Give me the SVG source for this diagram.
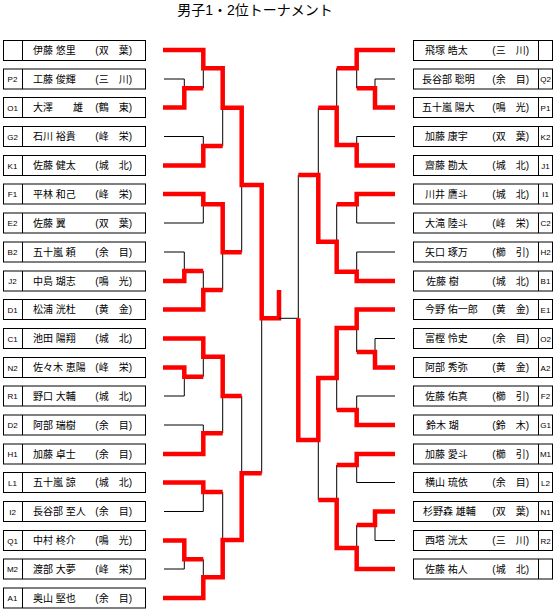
<svg xmlns="http://www.w3.org/2000/svg" width="560" height="610" viewBox="0 0 560 610">
<style>
.bx{fill:#fff;stroke:#000;stroke-width:1}
.dv{stroke:#000;stroke-width:1}
.nm{font-family:"Liberation Sans","Noto Sans CJK JP",sans-serif;font-size:10px;fill:#000}
.sd{font-family:"Liberation Sans",sans-serif;font-size:8px;fill:#000;text-anchor:middle}
.sc{text-anchor:end}
.ti{font-family:"Liberation Sans","Noto Sans CJK JP",sans-serif;font-size:14px;fill:#000;text-anchor:middle}
.r{fill:none;stroke:#f00;stroke-width:4.5;stroke-linejoin:miter}
.k{fill:none;stroke:#000;stroke-width:1}
</style>
<rect width="560" height="610" fill="#fff"/>
<text class="ti" x="255" y="15">男子1・2位トーナメント</text>

<g id="left-players">
<g id="L0"><rect class="bx" x="3.5" y="40.5" width="142" height="20"/><line class="dv" x1="22.5" y1="40.5" x2="22.5" y2="60.5"/><text class="nm" x="33" y="54">伊藤 悠里</text><text class="nm sc" x="132" y="54">(双　葉)</text></g>
<g id="L1"><rect class="bx" x="3.5" y="69" width="142" height="20"/><line class="dv" x1="22.5" y1="69" x2="22.5" y2="89"/><text class="sd" x="12.5" y="82">P2</text><text class="nm" x="33" y="82.5">工藤 俊輝</text><text class="nm sc" x="132" y="82.5">(三　川)</text></g>
<g id="L2"><rect class="bx" x="3.5" y="97.5" width="142" height="20"/><line class="dv" x1="22.5" y1="97.5" x2="22.5" y2="117.5"/><text class="sd" x="12.5" y="110.5">O1</text><text class="nm" x="33" y="111">大澤　　雄</text><text class="nm sc" x="132" y="111">(鶴　東)</text></g>
<g id="L3"><rect class="bx" x="3.5" y="126.5" width="142" height="20"/><line class="dv" x1="22.5" y1="126.5" x2="22.5" y2="146.5"/><text class="sd" x="12.5" y="139.5">G2</text><text class="nm" x="33" y="140">石川 裕貴</text><text class="nm sc" x="132" y="140">(峰　栄)</text></g>
<g id="L4"><rect class="bx" x="3.5" y="155.5" width="142" height="20"/><line class="dv" x1="22.5" y1="155.5" x2="22.5" y2="175.5"/><text class="sd" x="12.5" y="168.5">K1</text><text class="nm" x="33" y="169">佐藤 健太</text><text class="nm sc" x="132" y="169">(城　北)</text></g>
<g id="L5"><rect class="bx" x="3.5" y="184" width="142" height="20"/><line class="dv" x1="22.5" y1="184" x2="22.5" y2="204"/><text class="sd" x="12.5" y="197">F1</text><text class="nm" x="33" y="197.5">平林 和己</text><text class="nm sc" x="132" y="197.5">(峰　栄)</text></g>
<g id="L6"><rect class="bx" x="3.5" y="213" width="142" height="20"/><line class="dv" x1="22.5" y1="213" x2="22.5" y2="233"/><text class="sd" x="12.5" y="226">E2</text><text class="nm" x="33" y="226.5">佐藤 翼</text><text class="nm sc" x="132" y="226.5">(双　葉)</text></g>
<g id="L7"><rect class="bx" x="3.5" y="242" width="142" height="20"/><line class="dv" x1="22.5" y1="242" x2="22.5" y2="262"/><text class="sd" x="12.5" y="255">B2</text><text class="nm" x="33" y="255.5">五十嵐 頼</text><text class="nm sc" x="132" y="255.5">(余　目)</text></g>
<g id="L8"><rect class="bx" x="3.5" y="271" width="142" height="20"/><line class="dv" x1="22.5" y1="271" x2="22.5" y2="291"/><text class="sd" x="12.5" y="284">J2</text><text class="nm" x="33" y="284.5">中島 瑚志</text><text class="nm sc" x="132" y="284.5">(鳴　光)</text></g>
<g id="L9"><rect class="bx" x="3.5" y="299.5" width="142" height="20"/><line class="dv" x1="22.5" y1="299.5" x2="22.5" y2="319.5"/><text class="sd" x="12.5" y="312.5">D1</text><text class="nm" x="33" y="313">松浦 洸杜</text><text class="nm sc" x="132" y="313">(黄　金)</text></g>
<g id="L10"><rect class="bx" x="3.5" y="328.5" width="142" height="20"/><line class="dv" x1="22.5" y1="328.5" x2="22.5" y2="348.5"/><text class="sd" x="12.5" y="341.5">C1</text><text class="nm" x="33" y="342">池田 陽翔</text><text class="nm sc" x="132" y="342">(城　北)</text></g>
<g id="L11"><rect class="bx" x="3.5" y="357.5" width="142" height="20"/><line class="dv" x1="22.5" y1="357.5" x2="22.5" y2="377.5"/><text class="sd" x="12.5" y="370.5">N2</text><text class="nm" x="33" y="371">佐々木 恵陽</text><text class="nm sc" x="132" y="371">(峰　栄)</text></g>
<g id="L12"><rect class="bx" x="3.5" y="386" width="142" height="20"/><line class="dv" x1="22.5" y1="386" x2="22.5" y2="406"/><text class="sd" x="12.5" y="399">R1</text><text class="nm" x="33" y="399.5">野口 大輔</text><text class="nm sc" x="132" y="399.5">(城　北)</text></g>
<g id="L13"><rect class="bx" x="3.5" y="415" width="142" height="20"/><line class="dv" x1="22.5" y1="415" x2="22.5" y2="435"/><text class="sd" x="12.5" y="428">D2</text><text class="nm" x="33" y="428.5">阿部 瑞樹</text><text class="nm sc" x="132" y="428.5">(余　目)</text></g>
<g id="L14"><rect class="bx" x="3.5" y="444" width="142" height="20"/><line class="dv" x1="22.5" y1="444" x2="22.5" y2="464"/><text class="sd" x="12.5" y="457">H1</text><text class="nm" x="33" y="457.5">加藤 卓士</text><text class="nm sc" x="132" y="457.5">(余　目)</text></g>
<g id="L15"><rect class="bx" x="3.5" y="472.5" width="142" height="20"/><line class="dv" x1="22.5" y1="472.5" x2="22.5" y2="492.5"/><text class="sd" x="12.5" y="485.5">L1</text><text class="nm" x="33" y="486">五十嵐 諒</text><text class="nm sc" x="132" y="486">(城　北)</text></g>
<g id="L16"><rect class="bx" x="3.5" y="501.5" width="142" height="20"/><line class="dv" x1="22.5" y1="501.5" x2="22.5" y2="521.5"/><text class="sd" x="12.5" y="514.5">I2</text><text class="nm" x="33" y="515">長谷部 至人</text><text class="nm sc" x="132" y="515">(余　目)</text></g>
<g id="L17"><rect class="bx" x="3.5" y="530.5" width="142" height="20"/><line class="dv" x1="22.5" y1="530.5" x2="22.5" y2="550.5"/><text class="sd" x="12.5" y="543.5">Q1</text><text class="nm" x="33" y="544">中村 柊介</text><text class="nm sc" x="132" y="544">(鳴　光)</text></g>
<g id="L18"><rect class="bx" x="3.5" y="559" width="142" height="20"/><line class="dv" x1="22.5" y1="559" x2="22.5" y2="579"/><text class="sd" x="12.5" y="572">M2</text><text class="nm" x="33" y="572.5">渡部 大夢</text><text class="nm sc" x="132" y="572.5">(峰　栄)</text></g>
<g id="L19"><rect class="bx" x="3.5" y="588" width="142" height="20"/><line class="dv" x1="22.5" y1="588" x2="22.5" y2="608"/><text class="sd" x="12.5" y="601">A1</text><text class="nm" x="33" y="601.5">奥山 堅也</text><text class="nm sc" x="132" y="601.5">(余　目)</text></g>
</g>

<g id="right-players">
<g id="R0"><rect class="bx" x="413.5" y="40.5" width="139" height="20"/><line class="dv" x1="538.5" y1="40.5" x2="538.5" y2="60.5"/><text class="nm" x="425" y="54">飛塚 皓太</text><text class="nm sc" x="529" y="54">(三　川)</text></g>
<g id="R1"><rect class="bx" x="413.5" y="69" width="139" height="20"/><line class="dv" x1="538.5" y1="69" x2="538.5" y2="89"/><text class="sd" x="545.5" y="82">Q2</text><text class="nm" x="422" y="82.5">長谷部 聡明</text><text class="nm sc" x="529" y="82.5">(余　目)</text></g>
<g id="R2"><rect class="bx" x="413.5" y="97.5" width="139" height="20"/><line class="dv" x1="538.5" y1="97.5" x2="538.5" y2="117.5"/><text class="sd" x="545.5" y="110.5">P1</text><text class="nm" x="422" y="111">五十嵐 陽大</text><text class="nm sc" x="529" y="111">(鳴　光)</text></g>
<g id="R3"><rect class="bx" x="413.5" y="126.5" width="139" height="20"/><line class="dv" x1="538.5" y1="126.5" x2="538.5" y2="146.5"/><text class="sd" x="545.5" y="139.5">K2</text><text class="nm" x="425" y="140">加藤 康宇</text><text class="nm sc" x="529" y="140">(双　葉)</text></g>
<g id="R4"><rect class="bx" x="413.5" y="155.5" width="139" height="20"/><line class="dv" x1="538.5" y1="155.5" x2="538.5" y2="175.5"/><text class="sd" x="545.5" y="168.5">J1</text><text class="nm" x="425" y="169">齋藤 勘太</text><text class="nm sc" x="529" y="169">(城　北)</text></g>
<g id="R5"><rect class="bx" x="413.5" y="184" width="139" height="20"/><line class="dv" x1="538.5" y1="184" x2="538.5" y2="204"/><text class="sd" x="545.5" y="197">I1</text><text class="nm" x="425" y="197.5">川井 鷹斗</text><text class="nm sc" x="529" y="197.5">(城　北)</text></g>
<g id="R6"><rect class="bx" x="413.5" y="213" width="139" height="20"/><line class="dv" x1="538.5" y1="213" x2="538.5" y2="233"/><text class="sd" x="545.5" y="226">C2</text><text class="nm" x="425" y="226.5">大滝 陸斗</text><text class="nm sc" x="529" y="226.5">(峰　栄)</text></g>
<g id="R7"><rect class="bx" x="413.5" y="242" width="139" height="20"/><line class="dv" x1="538.5" y1="242" x2="538.5" y2="262"/><text class="sd" x="545.5" y="255">H2</text><text class="nm" x="425" y="255.5">矢口 琢万</text><text class="nm sc" x="529" y="255.5">(櫛　引)</text></g>
<g id="R8"><rect class="bx" x="413.5" y="271" width="139" height="20"/><line class="dv" x1="538.5" y1="271" x2="538.5" y2="291"/><text class="sd" x="545.5" y="284">B1</text><text class="nm" x="426" y="284.5">佐藤 樹</text><text class="nm sc" x="529" y="284.5">(城　北)</text></g>
<g id="R9"><rect class="bx" x="413.5" y="299.5" width="139" height="20"/><line class="dv" x1="538.5" y1="299.5" x2="538.5" y2="319.5"/><text class="sd" x="545.5" y="312.5">E1</text><text class="nm" x="425" y="313">今野 佑一郎</text><text class="nm sc" x="529" y="313">(黄　金)</text></g>
<g id="R10"><rect class="bx" x="413.5" y="328.5" width="139" height="20"/><line class="dv" x1="538.5" y1="328.5" x2="538.5" y2="348.5"/><text class="sd" x="545.5" y="341.5">O2</text><text class="nm" x="425" y="342">富樫 怜史</text><text class="nm sc" x="529" y="342">(余　目)</text></g>
<g id="R11"><rect class="bx" x="413.5" y="357.5" width="139" height="20"/><line class="dv" x1="538.5" y1="357.5" x2="538.5" y2="377.5"/><text class="sd" x="545.5" y="370.5">A2</text><text class="nm" x="425" y="371">阿部 秀弥</text><text class="nm sc" x="529" y="371">(黄　金)</text></g>
<g id="R12"><rect class="bx" x="413.5" y="386" width="139" height="20"/><line class="dv" x1="538.5" y1="386" x2="538.5" y2="406"/><text class="sd" x="545.5" y="399">F2</text><text class="nm" x="425" y="399.5">佐藤 佑真</text><text class="nm sc" x="529" y="399.5">(櫛　引)</text></g>
<g id="R13"><rect class="bx" x="413.5" y="415" width="139" height="20"/><line class="dv" x1="538.5" y1="415" x2="538.5" y2="435"/><text class="sd" x="545.5" y="428">G1</text><text class="nm" x="426" y="428.5">鈴木 瑚</text><text class="nm sc" x="529" y="428.5">(鈴　木)</text></g>
<g id="R14"><rect class="bx" x="413.5" y="444" width="139" height="20"/><line class="dv" x1="538.5" y1="444" x2="538.5" y2="464"/><text class="sd" x="545.5" y="457">M1</text><text class="nm" x="425" y="457.5">加藤 愛斗</text><text class="nm sc" x="529" y="457.5">(櫛　引)</text></g>
<g id="R15"><rect class="bx" x="413.5" y="472.5" width="139" height="20"/><line class="dv" x1="538.5" y1="472.5" x2="538.5" y2="492.5"/><text class="sd" x="545.5" y="485.5">L2</text><text class="nm" x="425" y="486">横山 琉依</text><text class="nm sc" x="529" y="486">(余　目)</text></g>
<g id="R16"><rect class="bx" x="413.5" y="501.5" width="139" height="20"/><line class="dv" x1="538.5" y1="501.5" x2="538.5" y2="521.5"/><text class="sd" x="545.5" y="514.5">N1</text><text class="nm" x="423" y="515">杉野森 雄輔</text><text class="nm sc" x="529" y="515">(双　葉)</text></g>
<g id="R17"><rect class="bx" x="413.5" y="530.5" width="139" height="20"/><line class="dv" x1="538.5" y1="530.5" x2="538.5" y2="550.5"/><text class="sd" x="545.5" y="543.5">R2</text><text class="nm" x="425" y="544">西塔 洸太</text><text class="nm sc" x="529" y="544">(三　川)</text></g>
<g id="R18"><rect class="bx" x="413.5" y="559" width="139" height="20"/><line class="dv" x1="538.5" y1="559" x2="538.5" y2="579"/><text class="nm" x="425" y="572.5">佐藤 祐人</text><text class="nm sc" x="529" y="572.5">(城　北)</text></g>
</g>

<g id="connectors">
<path class="k" d="M164,79 H184.3 V88.3 M203.3,68.3 V88.3 M164,136.5 H203.3 V146 M222.7,107.7 V146 M164,223 H203.3 V204.3 M164,252 H184.3 V271 M203.3,271 V290 M222.7,252.3 V290 M241.7,185 V252.3"/>
<path class="k" d="M164,396 H184.3 V376.7 M203.3,356.7 V376.7 M164,425 H203.3 V433.3 M222.7,396 V433.3 M164,511.5 H203.3 V492 M164,569 H184.3 V559.3 M203.3,559.3 V577.3 M222.7,492 V540 M241.7,396 V473.3 M261.7,318.3 V473.3"/>
<path class="r" d="M163,50 H203.3 V68.3 H222.7 V107.7 H241.7 V185 H261.7 V318.3 H279 V290"/>
<path class="r" d="M163,107.5 H184.3 V88.3 H203.3"/>
<path class="r" d="M163,165.5 H203.3 V146 H222.7"/>
<path class="r" d="M163,194 H203.3 V204.3 H222.7 V252.3 H241.7"/>
<path class="r" d="M163,281 H184.3 V271 H203.3"/>
<path class="r" d="M163,309.5 H203.3 V290 H222.7"/>
<path class="r" d="M163,338.5 H203.3 V356.7 H222.7 V396 H241.7"/>
<path class="r" d="M163,367.5 H184.3 V376.7 H203.3"/>
<path class="r" d="M163,454 H203.3 V433.3 H222.7"/>
<path class="r" d="M163,482.5 H203.3 V492 H222.7"/>
<path class="r" d="M163,540.5 H184.3 V559.3 H203.3"/>
<path class="r" d="M163,598 H203.3 V577.3 H222.7 V540 H241.7 V473.3 H261.7"/>
<path class="k" d="M279,318.3 H298.3 M298.3,175 V318.3"/>
<path class="k" d="M395,79 H375 V88.3 M356.7,68.3 V88.3 M336.7,68.3 V107.7 M395,136.5 H356.7 V145 M395,223 H356.7 V204.3 M395,252 H356.7 V271.7 M336.7,204.3 V241.7 M318.3,107.7 V175"/>
<path class="r" d="M395,50 H356.7 V68.3 H336.7"/>
<path class="r" d="M395,107.5 H375 V88.3 H356.7"/>
<path class="r" d="M395,165.5 H356.7 V145 H336.7 V107.7 H318.3"/>
<path class="r" d="M395,194 H356.7 V204.3 H336.7"/>
<path class="r" d="M395,281 H356.7 V271.7 H336.7 V241.7 H318.3 V175 H298.3"/>
<path class="k" d="M395,338.5 H375 V352 M356.7,328 V352 M395,396 H356.7 V410 M336.7,378 V410 M395,482.5 H356.7 V465 M395,540.5 H375 V525 M356.7,525 V548 M336.7,465 V500 M318.3,440 V500"/>
<path class="r" d="M395,309.5 H356.7 V328 H336.7 V378 H318.3 V440 H298.3 V318.3"/>
<path class="r" d="M395,367.5 H375 V352 H356.7"/>
<path class="r" d="M395,425 H356.7 V410 H336.7"/>
<path class="r" d="M395,454 H356.7 V465 H336.7"/>
<path class="r" d="M395,511.5 H375 V525 H356.7"/>
<path class="r" d="M395,569 H356.7 V548 H336.7 V500 H318.3"/>
</g>
</svg>
